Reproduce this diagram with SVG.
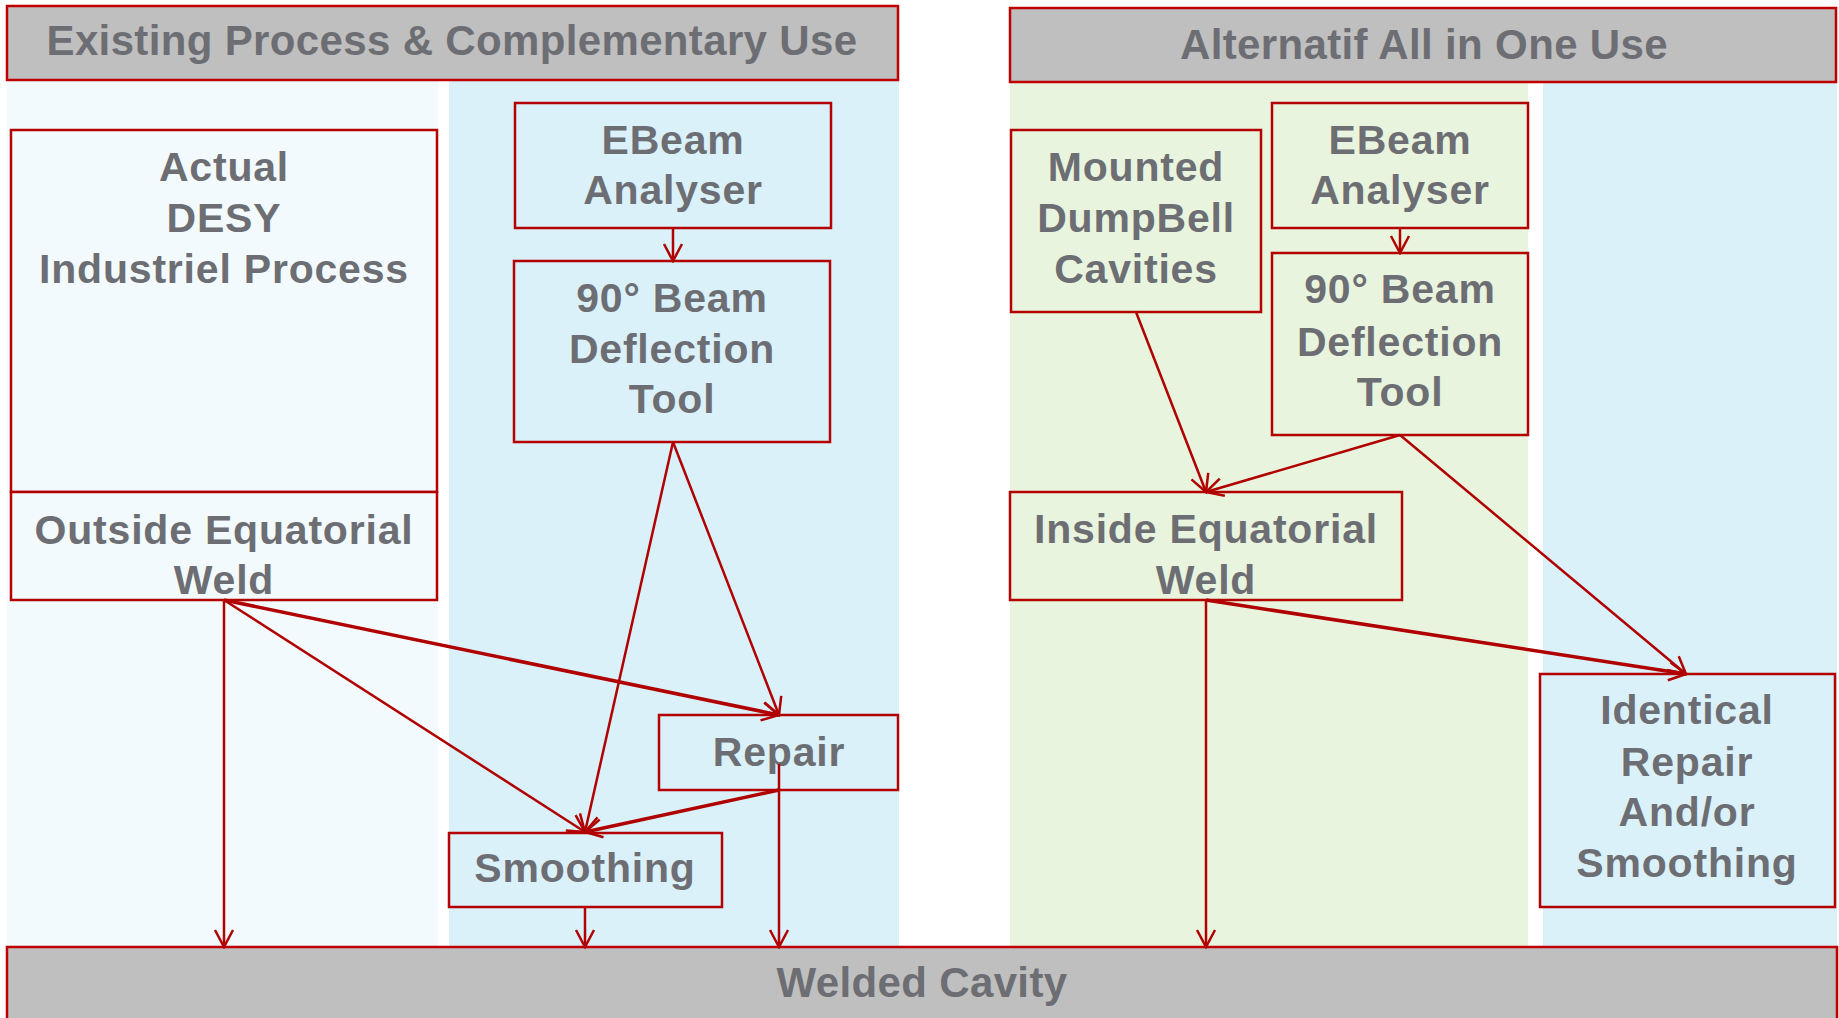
<svg xmlns="http://www.w3.org/2000/svg" width="1839" height="1018" viewBox="0 0 1839 1018">
<defs>
<style>
.bg{stroke:none}
.hdr{fill:#BFBFBF;stroke:#C00000;stroke-width:2.5}
.box{stroke:#B40000;stroke-width:2.5}
.t{font-family:"Liberation Sans",Arial,sans-serif;font-weight:bold;font-size:41px;fill:#6D6E73;text-anchor:middle;letter-spacing:0.8px}
.th{font-size:42px;letter-spacing:0.35px}
.c{stroke:#B00000;stroke-width:2.5;fill:none;marker-end:url(#arr)}
.c2{stroke-width:3.5}
</style>
<marker id="arr" markerUnits="userSpaceOnUse" viewBox="-20 -12 22 24" refX="0" refY="0" markerWidth="22" markerHeight="24" orient="auto">
<path d="M-17,-9 L0,0 L-17,9" fill="none" stroke="#B00000" stroke-width="2.5"/>
</marker>
</defs>
<rect width="1839" height="1018" fill="#FFFFFF"/>
<g id="lanes">
<rect class="bg" x="7" y="80" width="431" height="867" fill="#F2FAFD"/>
<rect class="bg" x="449" y="80" width="450" height="867" fill="#DAF1FA"/>
<rect class="bg" x="1010" y="82" width="518" height="865" fill="#E8F4DE"/>
<rect class="bg" x="1543" y="82" width="294" height="865" fill="#DAF1FA"/>
</g>
<g id="header1">
<rect class="hdr" x="7" y="6" width="891" height="74"/>
<text class="t th" x="452" y="55">Existing Process &amp; Complementary Use</text>
</g>
<g id="header2">
<rect class="hdr" x="1010" y="8" width="826" height="74"/>
<text class="t th" x="1424" y="59">Alternatif All in One Use</text>
</g>
<g id="actual-desy">
<rect class="box" x="11" y="130" width="426" height="362" fill="#F2FAFD"/>
<text class="t" x="224" y="181">Actual</text>
<text class="t" x="224" y="232">DESY</text>
<text class="t" x="224" y="283">Industriel Process</text>
</g>
<g id="outside-weld">
<rect class="box" x="11" y="492" width="426" height="108" fill="#F2FAFD"/>
<text class="t" x="224" y="544">Outside Equatorial</text>
<text class="t" x="224" y="594">Weld</text>
</g>
<g id="ebeam-left">
<rect class="box" x="515" y="103" width="316" height="125" fill="#DAF1FA"/>
<text class="t" x="673" y="154">EBeam</text>
<text class="t" x="673" y="204">Analyser</text>
</g>
<g id="deflection-left">
<rect class="box" x="514" y="261" width="316" height="181" fill="#DAF1FA"/>
<text class="t" x="672" y="312">90° Beam</text>
<text class="t" x="672" y="363">Deflection</text>
<text class="t" x="672" y="413">Tool</text>
</g>
<g id="repair">
<rect class="box" x="659" y="715" width="239" height="75" fill="#DAF1FA"/>
<text class="t" x="779" y="766">Repair</text>
</g>
<g id="smoothing">
<rect class="box" x="449" y="833" width="273" height="74" fill="#DAF1FA"/>
<text class="t" x="585" y="882">Smoothing</text>
</g>
<g id="mounted">
<rect class="box" x="1011" y="130" width="250" height="182" fill="#E8F4DE"/>
<text class="t" x="1136" y="181">Mounted</text>
<text class="t" x="1136" y="232">DumpBell</text>
<text class="t" x="1136" y="283">Cavities</text>
</g>
<g id="ebeam-right">
<rect class="box" x="1272" y="103" width="256" height="125" fill="#E8F4DE"/>
<text class="t" x="1400" y="154">EBeam</text>
<text class="t" x="1400" y="204">Analyser</text>
</g>
<g id="deflection-right">
<rect class="box" x="1272" y="253" width="256" height="182" fill="#E8F4DE"/>
<text class="t" x="1400" y="303">90° Beam</text>
<text class="t" x="1400" y="356">Deflection</text>
<text class="t" x="1400" y="406">Tool</text>
</g>
<g id="inside-weld">
<rect class="box" x="1010" y="492" width="392" height="108" fill="#E8F4DE"/>
<text class="t" x="1206" y="543">Inside Equatorial</text>
<text class="t" x="1206" y="594">Weld</text>
</g>
<g id="identical">
<rect class="box" x="1540" y="674" width="295" height="233" fill="#DAF1FA"/>
<text class="t" x="1687" y="724">Identical</text>
<text class="t" x="1687" y="776">Repair</text>
<text class="t" x="1687" y="826">And/or</text>
<text class="t" x="1687" y="877">Smoothing</text>
</g>
<g id="welded-cavity">
<rect class="hdr" x="7" y="947" width="1830" height="80"/>
<text class="t th" x="922" y="997">Welded Cavity</text>
</g>
<g id="connectors">
<line class="c" x1="224" y1="600" x2="224" y2="947"/>
<line class="c" x1="224" y1="600" x2="585" y2="832"/>
<line class="c c2" x1="224" y1="600" x2="779" y2="715"/>
<line class="c" x1="673" y1="442" x2="585" y2="832"/>
<line class="c" x1="673" y1="442" x2="779" y2="715"/>
<line class="c" x1="673" y1="228" x2="673" y2="261"/>
<line class="c" x1="779" y1="764" x2="779" y2="947"/>
<line class="c c2" x1="779" y1="790" x2="585" y2="832"/>
<line class="c" x1="585" y1="907" x2="585" y2="947"/>
<line class="c" x1="1136" y1="312" x2="1206" y2="492"/>
<line class="c" x1="1400" y1="435" x2="1206" y2="492"/>
<line class="c" x1="1400" y1="435" x2="1686" y2="674"/>
<line class="c c2" x1="1206" y1="600" x2="1686" y2="674"/>
<line class="c" x1="1206" y1="600" x2="1206" y2="947"/>
<line class="c" x1="1400" y1="228" x2="1400" y2="253"/>
</g>
</svg>
